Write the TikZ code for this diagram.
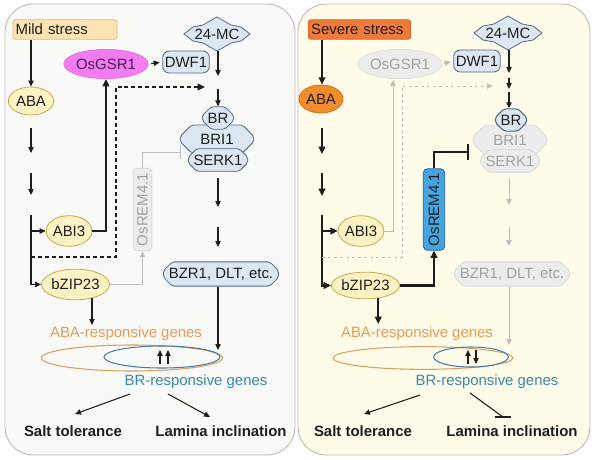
\documentclass[tikz,border=0pt]{standalone}
\usepackage{fontspec}
\setmainfont{Liberation Sans}
\usetikzlibrary{shapes.geometric,shapes.misc,arrows.meta,calc}
\definecolor{leftbg}{HTML}{F9FAF8}
\definecolor{rightbg}{HTML}{FEFCE8}
\definecolor{panelline}{HTML}{BDBDB5}
\definecolor{mildfill}{HTML}{FDE3B2}
\definecolor{milddraw}{HTML}{E9B574}
\definecolor{severefill}{HTML}{F07A38}
\definecolor{severedraw}{HTML}{E06020}
\definecolor{abafill}{HTML}{FCF2C4}
\definecolor{abadraw}{HTML}{C9A84E}
\definecolor{abadark}{HTML}{F28C2C}
\definecolor{abadarkdraw}{HTML}{D47018}
\definecolor{gsrfill}{HTML}{F27CF0}
\definecolor{gsrdraw}{HTML}{E060E0}
\definecolor{gsrtext}{HTML}{4A1858}
\definecolor{bluefill}{HTML}{DDE7F2}
\definecolor{bluedraw}{HTML}{4E6A86}
\definecolor{remfill}{HTML}{45A5E0}
\definecolor{remdraw}{HTML}{1F5C92}
\definecolor{grayfill}{HTML}{ECECEC}
\definecolor{graydraw}{HTML}{D8D8D8}
\definecolor{graytext}{HTML}{A2A2A2}
\definecolor{grayline}{HTML}{BDBDBD}
\definecolor{abatext}{HTML}{E39B56}
\definecolor{oell}{HTML}{D6A264}
\definecolor{bell}{HTML}{4B7FA6}
\definecolor{brtext}{HTML}{3A88AA}
\definecolor{ink}{HTML}{1E1E1E}
\tikzset{
  every node/.style={font=\fontsize{11.2}{13}\selectfont, text=ink, inner sep=1pt},
  arr/.style={-{Triangle[length=4.5pt,width=4pt]}, line width=0.8pt, draw=ink},
  tarr/.style={-{Triangle[length=5.5pt,width=5pt]}, line width=1.6pt, draw=ink},
  garr/.style={-{Triangle[length=4.5pt,width=4pt]}, line width=0.7pt, draw=grayline},
  stressbox/.style={rectangle, rounded corners=1.5pt, minimum height=14.5pt, text width=74pt, align=left, inner xsep=2pt, line width=0.6pt},
  yell/.style={ellipse, fill=abafill, draw=abadraw, line width=0.6pt, inner sep=0pt},
  gsr/.style={ellipse, inner sep=0pt, minimum width=49pt, minimum height=22pt},
  blueround/.style={rectangle, rounded corners=5pt, fill=bluefill, draw=bluedraw, line width=0.6pt, minimum width=35pt, minimum height=16.5pt},
  chamf/.style={chamfered rectangle, chamfered rectangle xsep=3pt, rounded corners=1.5pt, fill=bluefill, draw=bluedraw, line width=0.6pt, inner sep=1pt},
  graychamf/.style={chamf, fill=grayfill, draw=graydraw, text=graytext},
  mcnode/.style={minimum height=25pt, inner sep=0pt},
  remnode/.style={rectangle, rounded corners=3pt, rotate=90, line width=0.6pt},
  oval/.style={ellipse, line width=0.8pt, inner sep=0pt},
  outcome/.style={font=\fontsize{11.2}{13}\selectfont\bfseries},
}
\begin{document}
\begin{tikzpicture}[x=0.75pt,y=-0.75pt]
\useasboundingbox (0,0) rectangle (596,460);
% panels
\draw[draw=panelline, fill=leftbg, line width=0.7pt, rounded corners=21pt] (5,4) rectangle (295,455);
\draw[draw=panelline, fill=rightbg, line width=0.7pt, rounded corners=21pt] (298,4) rectangle (590,455);

%================ LEFT PANEL ================
\node[stressbox, fill=mildfill, draw=milddraw] (mildL) at (65,29.5) {Mild stress};
\node[yell, minimum width=34pt, minimum height=21pt] (abaL) at (31,101) {ABA};
\node[yell, minimum width=33pt, minimum height=23pt] (abi3L) at (69,231) {ABI3};
\node[yell, minimum width=43pt, minimum height=23pt] (bzipL) at (75.5,284.5) {bZIP23};
\node[gsr, fill=gsrfill, draw=gsrdraw, text=gsrtext] (gsrL) at (106,64) {OsGSR1};
\node[blueround] (dwfL) at (186,62) {DWF1};
\node[mcnode] (mcL) at (217,34) {24-MC};
\node[chamf, chamfered rectangle xsep=6pt, minimum width=55pt, minimum height=21pt] (bri1L) at (217,139) {BRI1};
\node[chamf, minimum width=22.5pt, minimum height=16pt] (brL) at (218,118) {BR};
\node[chamf, minimum width=42pt, minimum height=15pt] (serkL) at (218,160) {SERK1};
\node[chamf, minimum width=85pt, minimum height=16.5pt] (bzrL) at (221,274) {BZR1, DLT, etc.};
\node[remnode, fill=grayfill, draw=graydraw, text=graytext, minimum width=62pt, minimum height=14pt] (remL) at (142.5,209.5) {OsREM4.1};
\node[oval, draw=oell, minimum width=136pt, minimum height=19.5pt] (oeL) at (132,358) {};
\node[oval, draw=bell, minimum width=87pt, minimum height=16.5pt] (beL) at (162,357) {};
\node[text=abatext] (abagL) at (126,334) {ABA-responsive genes};
\node[text=brtext] (brgL) at (196,382) {BR-responsive genes};
\node[outcome] (saltL) at (73,431) {Salt tolerance};
\node[outcome] (lamL) at (221,431) {Lamina inclination};
% 24-MC shape
\draw[fill=bluefill, draw=bluedraw, line width=0.6pt, shift={(mcL.center)}]
  (-33,0) -- (-24,-7) -- (-14,-9) -- (0,-17) -- (14,-9) -- (24,-7) -- (33,0)
  -- (24,7) -- (14,9) -- (0,17) -- (-14,9) -- (-24,7) -- cycle;
\node[mcnode] at (mcL.center) {24-MC};

% coordinates left
\coordinate (lA1) at (31,128); \coordinate (lA2) at (31,153);
\coordinate (lB1) at (31,173); \coordinate (lB2) at (31,195);
\coordinate (lV) at (31,215);
\coordinate (lDot) at (31,257); \coordinate (lDotEnd) at (205,87);
\coordinate (lMC) at (218,76); \coordinate (lBR) at (218,89);
\coordinate (lC1) at (218,178); \coordinate (lC2) at (218,207);
\coordinate (lD1) at (218,227); \coordinate (lD2) at (218,247);
\coordinate (lE) at (218,350);
\coordinate (lInh) at (181,152);
\coordinate (lG1) at (89,325);
\coordinate (lU1a) at (160,364); \coordinate (lU1b) at (160,350);
\coordinate (lU2a) at (168,364); \coordinate (lU2b) at (168,350);
\coordinate (lS1) at (130,394); \coordinate (lS2) at (75,414);
\coordinate (lL1) at (168,394); \coordinate (lL2) at (210,417);

\draw[arr] (mildL.south -| abaL.north) -- (abaL.north);
\draw[arr] (lA1) -- (lA2);
\draw[arr] (lB1) -- (lB2);
\draw[line width=0.8pt, draw=ink] (lV) -- (lV |- bzipL.west);
\draw[arr] (lV) |- (abi3L.west);
\draw[arr] (lV) |- (bzipL.west);
\draw[-{Triangle[length=5.5pt,width=5pt]}, line width=2pt, draw=ink] (abi3L.east) -| (gsrL.south);
\draw[-{Triangle[length=5.5pt,width=5pt]}, line width=2pt, draw=ink, dash pattern=on 3pt off 2.2pt] (lDot) -| (116,87) -- (lDotEnd);
\draw[arr, shorten <=2pt, shorten >=2pt] (gsrL.east) -- (dwfL.west);
\draw[arr] (mcL.south -| lMC) -- (lMC);
\draw[arr] (lBR) -- (brL.north);
\draw[arr] (lC1) -- (lC2);
\draw[arr] (lD1) -- (lD2);
\draw[arr] (bzrL.south -| lE) -- (lE);
\draw[garr] (bzipL.east) -| (remL.west);
\draw[-{Bar[width=10pt]}, line width=0.7pt, draw=grayline] (remL.east) |- (lInh);
\draw[arr] (bzipL.-40) -- (bzipL.-40 |- lG1);
\draw[arr] (lU1a) -- (lU1b);
\draw[arr] (lU2a) -- (lU2b);
\draw[arr] (lS1) -- (lS2);
\draw[arr] (lL1) -- (lL2);

%================ RIGHT PANEL ================
\node[stressbox, fill=severefill, draw=severedraw, text width=72.5pt] (sevR) at (359.5,29.5) {Severe stress};
\node[ellipse, fill=abadark, draw=abadarkdraw, line width=0.6pt, inner sep=0pt, minimum width=33pt, minimum height=21pt] (abaR) at (321,99) {ABA};
\node[yell, minimum width=33pt, minimum height=23pt] (abi3R) at (361,231) {ABI3};
\node[yell, minimum width=41pt, minimum height=20pt] (bzipR) at (365.5,285.5) {bZIP23};
\node[gsr, fill=grayfill, draw=graydraw, text=graytext] (gsrR) at (400,64) {OsGSR1};
\node[blueround] (dwfR) at (477,61) {DWF1};
\node[mcnode] (mcR) at (508,33) {24-MC};
\node[graychamf, chamfered rectangle xsep=6pt, minimum width=55pt, minimum height=22pt] (bri1R) at (510,140) {BRI1};
\node[chamf, minimum width=23pt, minimum height=15pt, line width=0.8pt] (brR) at (511,120) {BR};
\node[graychamf, minimum width=40pt, minimum height=13pt] (serkR) at (510,161) {SERK1};
\node[graychamf, minimum width=85pt, minimum height=16.5pt] (bzrR) at (512,274) {BZR1, DLT, etc.};
\node[remnode, fill=remfill, draw=remdraw, minimum width=61pt, minimum height=16pt] (remR) at (434,209.5) {OsREM4.1};
\node[oval, draw=oell, minimum width=135pt, minimum height=17pt] (oeR) at (423,358) {};
\node[oval, draw=bell, minimum width=56pt, minimum height=15pt] (beR) at (471,357) {};
\node[text=abatext] (abagR) at (417,334) {ABA-responsive genes};
\node[text=brtext] (brgR) at (487,382) {BR-responsive genes};
\node[outcome] (saltR) at (363,431) {Salt tolerance};
\node[outcome] (lamR) at (512,431) {Lamina inclination};
\draw[fill=bluefill, draw=bluedraw, line width=0.6pt, shift={(mcR.center)}]
  (-34,0) -- (-25,-7) -- (-14,-9) -- (0,-17) -- (14,-9) -- (25,-7) -- (34,0)
  -- (25,7) -- (14,9) -- (0,17) -- (-14,9) -- (-25,7) -- cycle;
\node[mcnode] at (mcR.center) {24-MC};

\coordinate (rA1) at (322,128); \coordinate (rA2) at (322,154);
\coordinate (rB1) at (322,173); \coordinate (rB2) at (322,196);
\coordinate (rV) at (322,215);
\coordinate (rDash) at (322,257); \coordinate (rDashEnd) at (493,86);
\coordinate (rGs) at (393,80);
\coordinate (rM1) at (509,73);
\coordinate (rM2a) at (509,78); \coordinate (rM2b) at (509,89);
\coordinate (rM3a) at (509,92);
\coordinate (rC1) at (509,178); \coordinate (rC2) at (509,205);
\coordinate (rD1) at (509,227); \coordinate (rD2) at (509,246);
\coordinate (rE) at (509,345);
\coordinate (rInh) at (469,152);
\coordinate (rG1) at (378,324);
\coordinate (rUa) at (468,364); \coordinate (rUb) at (468,350);
\coordinate (rDa) at (476,350); \coordinate (rDb) at (476,364);
\coordinate (rS1) at (420,395); \coordinate (rS2) at (364,414);
\coordinate (rL1) at (470,393); \coordinate (rL2) at (503,417);
\coordinate (rBarA) at (495,417); \coordinate (rBarB) at (511,417);

\draw[tarr] (sevR.south -| rA1) -- (abaR.north -| rA1);
\draw[tarr] (rA1) -- (rA2);
\draw[tarr] (rB1) -- (rB2);
\draw[line width=1.6pt, draw=ink] (rV) -- (rV |- bzipR.west);
\draw[tarr] (rV) |- (abi3R.west);
\draw[tarr] (rV) |- (bzipR.west);
\draw[garr] (abi3R.east) -| (rGs);
\draw[garr, dash pattern=on 2.5pt off 2pt] (rDash) -| (402,86) -- (rDashEnd);
\draw[garr, shorten <=1pt, shorten >=2pt] (gsrR.east) -- (dwfR.west);
\draw[arr] (mcR.south -| rM1) -- (rM1);
\draw[arr] (rM2a) -- (rM2b);
\draw[arr] (rM3a) -- (brR.north -| rM3a);
\draw[garr] (rC1) -- (rC2);
\draw[garr] (rD1) -- (rD2);
\draw[garr] (bzrR.south -| rE) -- (rE);
\draw[tarr] (bzipR.east) -| (remR.west);
\draw[-{Bar[width=12.5pt]}, line width=1.8pt, draw=ink] (remR.east) |- (rInh);
\draw[tarr] (bzipR.-45) -- (bzipR.-45 |- rG1);
\draw[arr] (rUa) -- (rUb);
\draw[arr] (rDa) -- (rDb);
\draw[arr] (rS1) -- (rS2);
\draw[line width=0.8pt, draw=ink] (rL1) -- (rL2);
\draw[line width=1.2pt, draw=ink] (rBarA) -- (rBarB);
\end{tikzpicture}
\end{document}
